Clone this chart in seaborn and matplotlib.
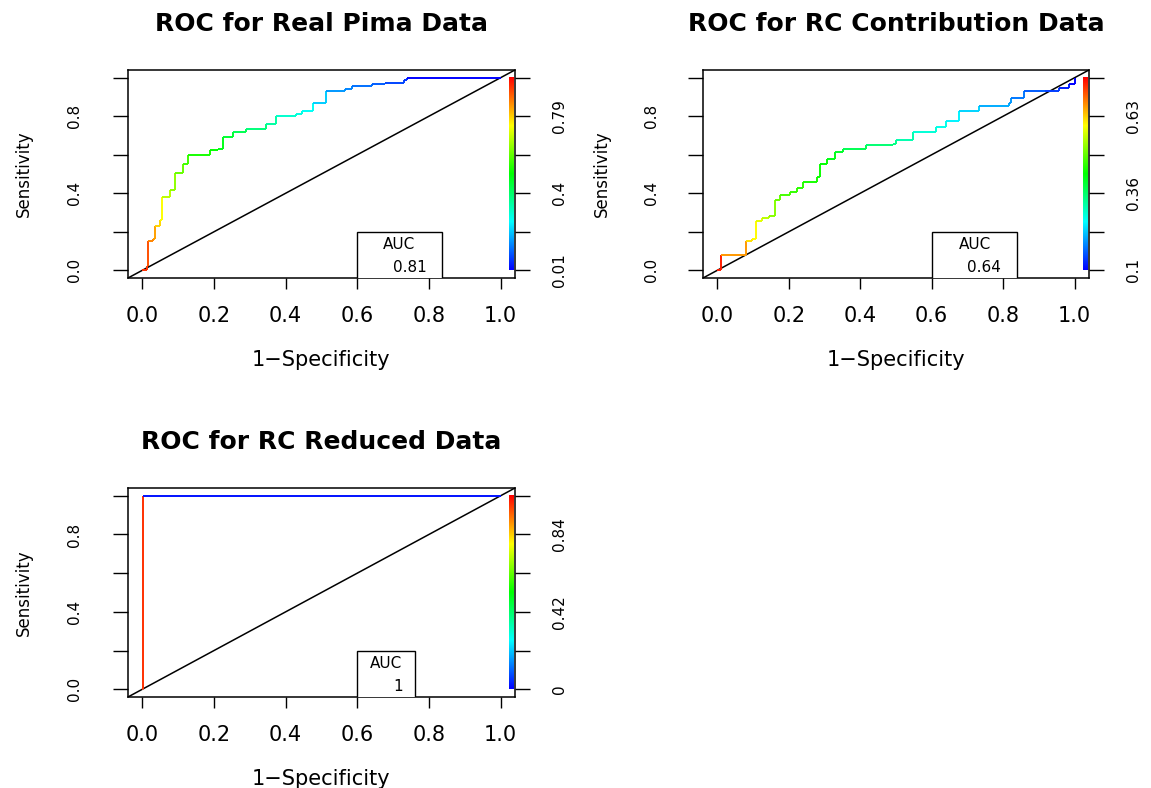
import numpy as np
import matplotlib
matplotlib.use("Agg")
import matplotlib.pyplot as plt
from matplotlib.colors import ListedColormap, hsv_to_rgb
from matplotlib.collections import LineCollection
from matplotlib.patches import Rectangle
import seaborn as sns

# Data
titles = ["ROC for Real Pima Data", "ROC for RC Contribution Data", "ROC for RC Reduced Data"]

pima_fpr = [0.0, 0.013, 0.016, 0.031, 0.036, 0.050, 0.054, 0.078, 0.091, 0.114, 0.128,
            0.188, 0.211, 0.225, 0.253, 0.290, 0.345, 0.373, 0.428, 0.447, 0.475,
            0.512, 0.567, 0.585, 0.641, 0.678, 0.729, 0.738, 1.0]
pima_tpr = [0.0, 0.022, 0.151, 0.160, 0.228, 0.262, 0.383, 0.417, 0.503, 0.554, 0.597,
            0.623, 0.631, 0.691, 0.717, 0.734, 0.760, 0.803, 0.811, 0.828, 0.871,
            0.931, 0.940, 0.957, 0.966, 0.974, 0.986, 0.997, 1.0]
pima_cut = [0.985, 0.936, 0.907, 0.858, 0.829, 0.780, 0.741, 0.673, 0.634, 0.595, 0.556,
            0.517, 0.498, 0.478, 0.449, 0.420, 0.381, 0.342, 0.303, 0.283, 0.264,
            0.205, 0.156, 0.137, 0.117, 0.098, 0.078, 0.059, 0.01]

contrib_fpr = [0.0, 0.009, 0.079, 0.097, 0.107, 0.125, 0.144, 0.162, 0.176, 0.204, 0.223,
               0.241, 0.278, 0.288, 0.306, 0.329, 0.353, 0.417, 0.492, 0.501, 0.547,
               0.612, 0.640, 0.677, 0.733, 0.816, 0.821, 0.858, 0.918, 0.955, 0.983, 1.0]
contrib_tpr = [0.0, 0.077, 0.151, 0.160, 0.254, 0.271, 0.280, 0.365, 0.391, 0.408, 0.425,
               0.460, 0.485, 0.554, 0.580, 0.614, 0.631, 0.648, 0.657, 0.674, 0.717,
               0.743, 0.777, 0.828, 0.854, 0.871, 0.897, 0.931, 0.931, 0.949, 0.966, 1.0]
contrib_cut = [0.76, 0.740, 0.660, 0.614, 0.594, 0.574, 0.547, 0.514, 0.494, 0.474, 0.461,
               0.454, 0.441, 0.434, 0.428, 0.414, 0.401, 0.374, 0.354, 0.341, 0.314,
               0.288, 0.275, 0.255, 0.235, 0.208, 0.195, 0.175, 0.155, 0.135, 0.115, 0.095]

reduced_fpr = [0.0, 0.003, 1.0]
reduced_tpr = [0.0, 1.0, 1.0]
reduced_cut = [1.05, 1.0, 0.02]

auc_text = ["0.81", "0.64", "1"]
cut_min = [0.01, 0.095, 0.0]
cut_max = [0.985, 0.76, 1.05]
cut_labels = [["0.01", "", "0.4", "", "0.79", ""],
              ["0.1", "", "0.36", "", "0.63", ""],
              ["0", "", "0.42", "", "0.84", ""]]
sens_labels = ["0.0", "", "0.4", "", "0.8", ""]
spec_labels = ["0.0", "0.2", "0.4", "0.6", "0.8", "1.0"]

sns.set_style("white", {"axes.edgecolor": "black", "xtick.color": "black",
                        "ytick.color": "black", "text.color": "black",
                        "axes.labelcolor": "black"})
plt.rcParams["font.family"] = ["DejaVu Sans"]

# R style rainbow(start=0, end=4/6), blue for low cutoffs and red for high ones
hues = np.linspace(4 / 6, 0, 256)
cmap = ListedColormap(hsv_to_rgb(np.column_stack([hues, np.ones(256), np.ones(256)])))

fig = plt.figure(figsize=(11.51, 7.88), dpi=100)
boxes = [[0.1112, 0.6472, 0.3362, 0.264],
         [0.6108, 0.6472, 0.3353, 0.264],
         [0.1112, 0.1155, 0.3362, 0.2652]]
legend_w = [0.235, 0.24, 0.16]

curves = [(pima_fpr, pima_tpr, pima_cut),
          (contrib_fpr, contrib_tpr, contrib_cut),
          (reduced_fpr, reduced_tpr, reduced_cut)]


def roc_panel(ax, i):
    fpr, tpr, cut = curves[i]
    xs, ys, cs = [fpr[0]], [tpr[0]], [cut[0]]
    for k in range(1, len(fpr)):
        xs += [fpr[k], fpr[k]]
        ys += [tpr[k - 1], tpr[k]]
        cs += [cut[k], cut[k]]
    pts = np.column_stack([xs, ys])
    segs = np.stack([pts[:-1], pts[1:]], axis=1)
    lc = LineCollection(segs, cmap=cmap, linewidths=1.4, zorder=4)
    lc.set_array(np.array(cs[1:]))
    lc.set_clim(cut_min[i], cut_max[i])
    ax.add_collection(lc)

    ax.axline((0, 0), slope=1, color="black", lw=1.1, zorder=3)

    # colour key on the right edge
    ax.imshow(np.linspace(0, 1, 256)[:, None], cmap=cmap, origin="lower",
              extent=[1.022, 1.035, 0, 1], aspect="auto", zorder=5)

    # AUC legend box
    ax.add_patch(Rectangle((0.6, -0.2), legend_w[i], 0.4, facecolor="white",
                           edgecolor="black", lw=1, zorder=6))
    ax.text(0.6 + legend_w[i] / 2, 0.134, "AUC", ha="center", va="center",
            fontsize=11, zorder=7)
    ax.text(0.70, 0.014, auc_text[i], ha="left", va="center", fontsize=11, zorder=7)

    ax.set_xlim(-0.04, 1.04)
    ax.set_ylim(-0.04, 1.04)
    ticks = np.linspace(0, 1, 6)
    ax.set_xticks(ticks)
    ax.set_xticklabels(spec_labels, fontsize=15)
    ax.set_yticks(ticks)
    ax.set_yticklabels(sens_labels, fontsize=11, rotation=90, va="center")
    ax.tick_params(axis="x", length=8, width=1, pad=12, bottom=True)
    ax.tick_params(axis="y", length=11, width=1, pad=21 if i == 1 else 22, left=True)
    for sp in ax.spines.values():
        sp.set_linewidth(1.1)

    ax.set_title(titles[i], fontsize=18, fontweight="bold", pad=28)
    ax.set_xlabel("1\u2212Specificity", fontsize=15, va="top")
    ax.xaxis.set_label_coords(0.5, -0.345)
    ax.set_ylabel("Sensitivity", fontsize=12)
    ax.yaxis.set_label_coords(-0.245 if i != 1 else -0.24, 0.5)

    ax2 = ax.twinx()
    ax2.set_ylim(ax.get_ylim())
    ax2.set_yticks(ticks)
    ax2.set_yticklabels(cut_labels[i], fontsize=11, rotation=90, va="center")
    ax2.tick_params(axis="y", length=11, width=1, pad=16, right=True)
    for sp in ax2.spines.values():
        sp.set_visible(False)


for i in range(3):
    ax = fig.add_axes(boxes[i])
    roc_panel(ax, i)

fig.savefig("out.png", dpi=100)
